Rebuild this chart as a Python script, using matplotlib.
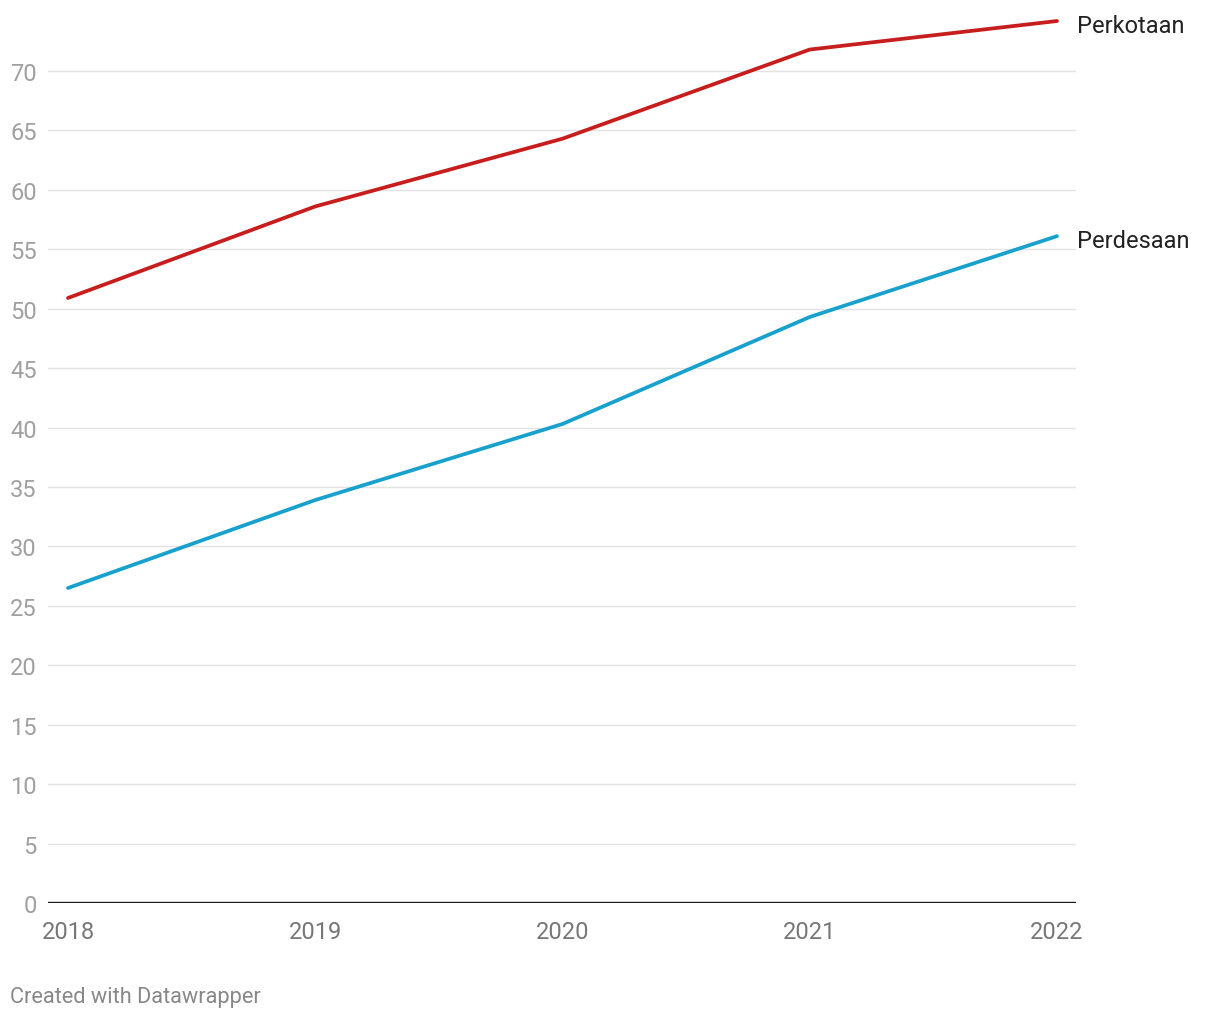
import matplotlib.pyplot as plt

plt.rcParams['font.family'] = ['Roboto', 'DejaVu Sans']

years = [2018, 2019, 2020, 2021, 2022]
perkotaan = [50.9, 58.6, 64.3, 71.8, 74.2]
perdesaan = [26.5, 33.9, 40.3, 49.3, 56.1]
yticks = list(range(0, 75, 5))

fig = plt.figure(figsize=(12.2, 10.2), dpi=100)
ax = fig.add_axes([48 / 1220, 1 - 904 / 1020, (1076 - 48) / 1220, (904 - 12.5) / 1020])

for y in yticks[1:]:
    ax.axhline(y, color='#e3e3e3', lw=1.0, zorder=1)
ax.axhline(0, color='#1a1a1a', lw=1.7, zorder=3)

ax.plot(years, perkotaan, color='#c71e1d', lw=2.7, solid_capstyle='round', zorder=4, clip_on=False)
ax.plot(years, perdesaan, color='#18a1cd', lw=2.7, solid_capstyle='round', zorder=4, clip_on=False)

ax.text(2022.08, perkotaan[-1] - 0.4, 'Perkotaan', fontsize=17, color='#222222', va='center', ha='left')
ax.text(2022.08, perdesaan[-1] - 0.35, 'Perdesaan', fontsize=17, color='#222222', va='center', ha='left')

ax.set_xlim(2018 - 20 / 247.25, 2022 + 19 / 247.25)
ax.set_ylim(0, 75)
ax.set_xticks(years)
ax.set_xticklabels([str(y) for y in years], fontsize=17, color='#777777')
ax.set_yticks(yticks)
ax.set_yticklabels([str(y) for y in yticks], fontsize=17, color='#a0a0a0')
ax.tick_params(axis='both', length=0)
ax.tick_params(axis='y', pad=8)
ax.tick_params(axis='x', pad=12)
for s in ax.spines.values():
    s.set_visible(False)

fig.text(10 / 1220, 1 - 998 / 1020, 'Created with Datawrapper', fontsize=15.7, color='#888888', va='center')

fig.savefig('out.png', dpi=100)
